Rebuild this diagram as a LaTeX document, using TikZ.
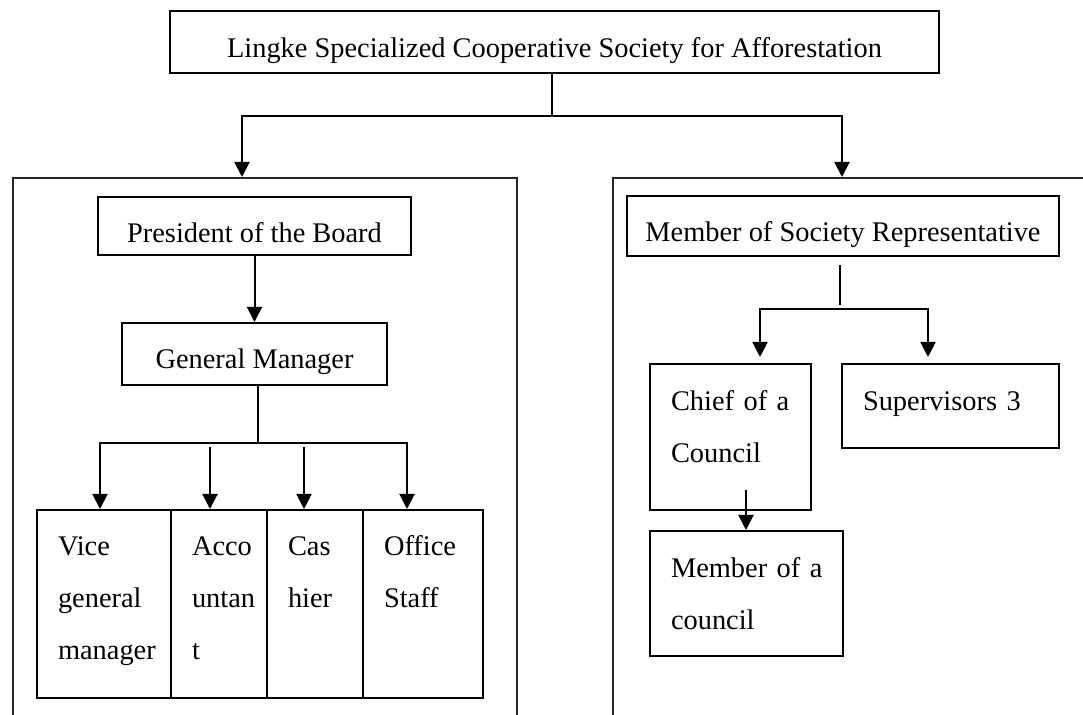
\documentclass[tikz,border=0pt]{standalone}
\usepackage{fontspec}
\setmainfont{Liberation Serif}
\usetikzlibrary{arrows.meta}

\begin{document}
\begin{tikzpicture}
  [x=.5pt,y=-.5pt,
   box/.style={draw,line width=1pt,anchor=north west,inner sep=0pt,
     font=\fontsize{14.2}{26}\selectfont},
   cell/.style={box,inner xsep=10.5pt,align=left},
   frame/.style={draw=black!85,line width=.8pt,anchor=north west,minimum height=300pt},
   link/.style={line width=1pt},
   arr/.style={link,-{Triangle[width=7.5pt,length=7.5pt]}}]
  \useasboundingbox (0,0) rectangle (1083,715);
  \clip (0,0) rectangle (1083,715);

  \node[box,minimum width=384.5pt,text height=23.5pt,text depth=7.5pt] (soc) at (169,10)
    {Lingke Specialized Cooperative Society for Afforestation};

  \node[frame,minimum width=252pt] (board) at (12,177) {};
  \node[frame,minimum width=250pt] (assembly) at (612,177) {};

  \node[box,minimum width=156.5pt,text height=23pt,text depth=6pt] (pres) at (97,196) {President of the Board};
  \node[box,minimum width=132.5pt,text height=23pt,text depth=8pt] (gm) at (121,322) {General Manager};
  \node[cell,text width=46pt,text height=23pt,text depth=71pt] (vice) at (36,509) {Vice\\general\\manager};
  \node[cell,text width=27pt,text height=23pt,text depth=71pt] (acco) at (170,509) {Acco\\untan\\t};
  \node[cell,text width=27pt,text height=23pt,text depth=71pt] (cash) at (266,509) {Cas\\hier};
  \node[cell,text width=39pt,text height=23pt,text depth=71pt] (office) at (362,509) {Office\\Staff};

  \node[box,minimum width=216pt,text height=23pt,text depth=7pt] (msr) at (626,195) {Member of Society Representative};
  \node[cell,text width=59.5pt,text height=23.5pt,text depth=49.5pt] (chief) at (649,363)
    {\makebox[\linewidth][s]{Chief of a}\\Council};
  \node[cell,text width=87.5pt,text height=23.5pt,text depth=18.5pt] (sup) at (841,363) {Supervisors 3};
  \node[cell,text width=75.5pt,text height=23.5pt,text depth=39pt] (council) at (649,530)
    {\makebox[\linewidth][s]{Member of a}\\council};

  \coordinate (split) at (552,116);
  \coordinate (boardin) at (242,177);
  \coordinate (assemblyin) at (842,177);
  \draw[link] (soc.south -| split) -- (split);
  \draw[arr] (split) -| (boardin);
  \draw[arr] (split) -| (assemblyin);

  \draw[arr] (pres) -- (gm);

  \coordinate (gmsplit) at (258,443);
  \coordinate (t1) at (100,509);
  \coordinate (t2) at (210,509);
  \coordinate (t3) at (304,509);
  \coordinate (t4) at (407,509);
  \draw[link] (gm.south -| gmsplit) -- (gmsplit);
  \draw[arr] (gmsplit) -| (t1);
  \draw[arr] (gmsplit) -| (t4);
  \foreach \t in {t2,t3}
    \draw[arr] (\t |- gmsplit) ++(0,4) -- (\t);

  \coordinate (msrsplit) at (840,309);
  \coordinate (c1) at (760,363);
  \coordinate (c2) at (928,363);
  \draw[link,shorten <=4pt,shorten >=2pt] (msr.south -| msrsplit) -- (msrsplit);
  \draw[arr,shorten >=3pt] (msrsplit) -| (c1);
  \draw[arr,shorten >=3pt] (msrsplit) -| (c2);

  \coordinate (m1) at (746,530);
  \draw[arr] (m1 |- chief.south) ++(0,-21) -- (m1);
\end{tikzpicture}
\end{document}
